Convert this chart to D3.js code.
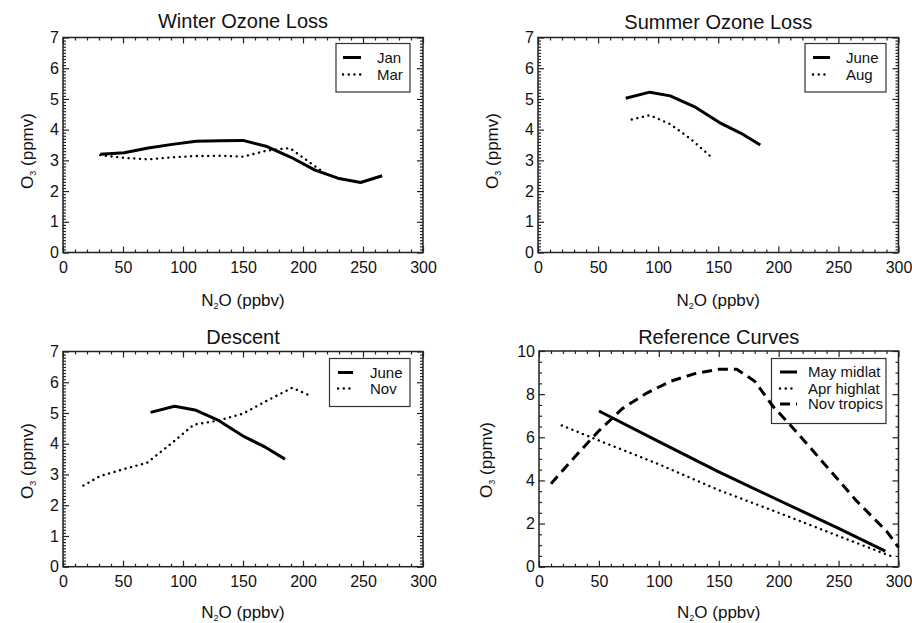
<!DOCTYPE html>
<html><head><meta charset="utf-8">
<script src="https://cdn.jsdelivr.net/npm/d3@7"></script>
<style>
html,body{margin:0;padding:0;background:#fff;}
svg{display:block;font-family:"Liberation Sans",Arial,Helvetica,sans-serif;}
</style></head>
<body>
<svg id="chart" width="912" height="623"></svg>
<script>
// ---- data ----
const xTickValues = [0, 50, 100, 150, 200, 250, 300];
const yTickValues7 = [0, 1, 2, 3, 4, 5, 6, 7];
const yTickValues10 = [0, 2, 4, 6, 8, 10];

const titles = ["Winter Ozone Loss", "Summer Ozone Loss", "Descent", "Reference Curves"];

// Winter Ozone Loss
const janN2O = [31, 51, 71, 91, 111, 131, 150, 170, 190, 210, 229, 248, 266];
const janO3  = [3.2, 3.25, 3.4, 3.52, 3.62, 3.64, 3.65, 3.45, 3.1, 2.68, 2.42, 2.28, 2.5];
const marN2O = [31, 51, 71, 91, 111, 131, 150, 170, 189, 205, 221];
const marO3  = [3.17, 3.08, 3.03, 3.1, 3.14, 3.15, 3.12, 3.32, 3.4, 2.95, 2.5];

// Summer Ozone Loss / Descent
const juneN2O = [73, 93, 110, 130, 151, 169, 185];
const juneO3  = [5.02, 5.22, 5.1, 4.75, 4.23, 3.88, 3.5];
const augN2O  = [78, 93, 110, 127, 143];
const augO3   = [4.33, 4.47, 4.18, 3.7, 3.15];
const novN2O  = [17, 31, 51, 70, 90, 109, 129, 150, 170, 191, 205];
const novO3   = [2.64, 2.95, 3.18, 3.38, 4.0, 4.62, 4.75, 4.98, 5.4, 5.82, 5.58];

// Reference Curves
const mayMidN2O = [50, 100, 150, 200, 250, 289];
const mayMidO3  = [7.22, 5.8, 4.4, 3.08, 1.78, 0.72];
const aprHighN2O = [19, 50, 100, 150, 200, 250, 297];
const aprHighO3  = [6.55, 5.85, 4.75, 3.55, 2.5, 1.42, 0.42];
const novTropN2O = [10, 30, 50, 70, 90, 110, 130, 150, 165, 180, 195, 210, 240, 265, 290, 300];
const novTropO3  = [3.85, 5.1, 6.3, 7.35, 8.05, 8.6, 8.95, 9.15, 9.15, 8.6, 7.45, 6.55, 4.65, 3.05, 1.65, 0.9];

// ---- styles ----
const styles = {
  solid:  {width: 3, dash: null, cap: "butt"},
  dotted: {width: 2.4, dash: "0.1 5.6", cap: "round"},
  dashed: {width: 3, dash: "10 6", cap: "butt"}
};

const zip = (xs, ys) => xs.map((x, i) => [x, ys[i]]);

const panels = [
  {title: titles[0], left: 63, right: 423, top: 37.5, bottom: 252.5, yMax: 7, yTicks: yTickValues7, yMinor: 0.1,
   titleY: 28, ylabX: 27.5, ylabY: 151, xlabY: 306,
   legend: {x: 336, y: 43.5, w: 74, h: 48.5, lineX0: 343, lineX1: 361, textX: 377, rows: [57.5, 74.5]},
   series: [{name: "Jan", d: zip(janN2O, janO3), s: "solid"}, {name: "Mar", d: zip(marN2O, marO3), s: "dotted"}]},
  {title: titles[1], left: 538, right: 898.5, top: 37.5, bottom: 252.5, yMax: 7, yTicks: yTickValues7, yMinor: 0.1,
   titleY: 28.5, ylabX: 492.5, ylabY: 151, xlabY: 306,
   legend: {x: 805, y: 43.5, w: 81, h: 48.5, lineX0: 813, lineX1: 830, textX: 846, rows: [57.5, 74.5]},
   series: [{name: "June", d: zip(juneN2O, juneO3), s: "solid"}, {name: "Aug", d: zip(augN2O, augO3), s: "dotted"}]},
  {title: titles[2], left: 63, right: 423, top: 351.5, bottom: 566.7, yMax: 7, yTicks: yTickValues7, yMinor: 0.1,
   titleY: 344, ylabX: 27.5, ylabY: 461, xlabY: 617.5,
   legend: {x: 329.5, y: 358.5, w: 80.5, h: 48, lineX0: 338, lineX1: 353, textX: 370, rows: [372.5, 388.5]},
   series: [{name: "June", d: zip(juneN2O, juneO3), s: "solid"}, {name: "Nov", d: zip(novN2O, novO3), s: "dotted"}]},
  {title: titles[3], left: 539, right: 898.5, top: 351, bottom: 566.7, yMax: 10, yTicks: yTickValues10, yMinor: 0.5,
   titleY: 344, ylabX: 486.5, ylabY: 460, xlabY: 617.5,
   legend: {x: 771.5, y: 358.5, w: 114.5, h: 65, lineX0: 780, lineX1: 797, textX: 808, rows: [372, 388.5, 404]},
   series: [{name: "May midlat", d: zip(mayMidN2O, mayMidO3), s: "solid"},
            {name: "Apr highlat", d: zip(aprHighN2O, aprHighO3), s: "dotted"},
            {name: "Nov tropics", d: zip(novTropN2O, novTropO3), s: "dashed"}]}
];

const svg = d3.select("#chart");
const axisColor = "#222";

panels.forEach((p, pi) => {
  const x = d3.scaleLinear().domain([0, 300]).range([p.left, p.right]);
  const y = d3.scaleLinear().domain([0, p.yMax]).range([p.bottom, p.top]);
  const g = svg.append("g");

  const xMinor = d3.range(0, 301, 10).filter(v => v % 50 !== 0);
  const yMinorVals = d3.range(0, p.yMax + 1e-9, p.yMinor).map(v => +v.toFixed(3))
    .filter(v => !p.yTicks.some(t => Math.abs(t - v) < 1e-6));

  function styleAxis(sel) {
    sel.select(".domain").remove();
    sel.selectAll(".tick line").attr("stroke", axisColor).attr("stroke-width", 1.2);
    sel.selectAll(".tick text").attr("fill", "#111").style("font-size", "16px")
      .style("font-family", '"Liberation Sans",Arial,sans-serif');
  }

  // bottom
  g.append("g").attr("transform", `translate(0,${p.bottom})`)
    .call(d3.axisBottom(x).tickValues(xTickValues).tickSizeInner(-6).tickSizeOuter(0).tickPadding(9).tickFormat(d3.format("d")))
    .call(styleAxis);
  g.append("g").attr("transform", `translate(0,${p.bottom})`)
    .call(d3.axisBottom(x).tickValues(xMinor).tickSizeInner(-3).tickSizeOuter(0).tickFormat(""))
    .call(styleAxis);
  // top
  g.append("g").attr("transform", `translate(0,${p.top})`)
    .call(d3.axisTop(x).tickValues(xTickValues).tickSizeInner(-6).tickSizeOuter(0).tickFormat(""))
    .call(styleAxis);
  g.append("g").attr("transform", `translate(0,${p.top})`)
    .call(d3.axisTop(x).tickValues(xMinor).tickSizeInner(-3).tickSizeOuter(0).tickFormat(""))
    .call(styleAxis);
  // left
  g.append("g").attr("transform", `translate(${p.left},0)`)
    .call(d3.axisLeft(y).tickValues(p.yTicks).tickSizeInner(-6).tickSizeOuter(0).tickPadding(4).tickFormat(d3.format("d")))
    .call(styleAxis);
  g.append("g").attr("transform", `translate(${p.left},0)`)
    .call(d3.axisLeft(y).tickValues(yMinorVals).tickSizeInner(-3).tickSizeOuter(0).tickFormat(""))
    .call(styleAxis);
  // right
  g.append("g").attr("transform", `translate(${p.right},0)`)
    .call(d3.axisRight(y).tickValues(p.yTicks).tickSizeInner(-6).tickSizeOuter(0).tickFormat(""))
    .call(styleAxis);
  g.append("g").attr("transform", `translate(${p.right},0)`)
    .call(d3.axisRight(y).tickValues(yMinorVals).tickSizeInner(-3).tickSizeOuter(0).tickFormat(""))
    .call(styleAxis);

  // frame
  g.append("rect").attr("x", p.left).attr("y", p.top)
    .attr("width", p.right - p.left).attr("height", p.bottom - p.top)
    .attr("fill", "none").attr("stroke", axisColor).attr("stroke-width", 1.5);

  // title
  g.append("text").attr("x", (p.left + p.right) / 2).attr("y", p.titleY)
    .attr("text-anchor", "middle").style("font-size", "20px").attr("fill", "#111").text(p.title);

  // x label
  const xl = g.append("text").attr("x", (p.left + p.right) / 2).attr("y", p.xlabY)
    .attr("text-anchor", "middle").style("font-size", "17px").attr("fill", "#111");
  xl.append("tspan").text("N");
  xl.append("tspan").attr("dy", 3).style("font-size", "9px").text("2");
  xl.append("tspan").attr("dy", -3).text("O (ppbv)");

  // y label
  const yl = g.append("text").attr("transform", `translate(${p.ylabX},${p.ylabY}) rotate(-90)`)
    .attr("dy", "0.35em").attr("text-anchor", "middle").style("font-size", "17px").attr("fill", "#111");
  yl.append("tspan").text("O");
  yl.append("tspan").attr("dy", 3).style("font-size", "9px").text("3");
  yl.append("tspan").attr("dy", -3).text(" (ppmv)");

  // legend
  const L = p.legend;
  g.append("rect").attr("x", L.x).attr("y", L.y).attr("width", L.w).attr("height", L.h)
    .attr("fill", "none").attr("stroke", "#333").attr("stroke-width", 1.2);
  p.series.forEach((s, i) => {
    const st = styles[s.s];
    g.append("line").attr("x1", L.lineX0).attr("x2", L.lineX1).attr("y1", L.rows[i]).attr("y2", L.rows[i])
      .attr("stroke", "#000").attr("stroke-width", st.width)
      .attr("stroke-dasharray", st.dash).attr("stroke-linecap", st.cap);
    g.append("text").attr("x", L.textX).attr("y", L.rows[i]).attr("dy", "0.35em")
      .style("font-size", "15px").attr("fill", "#111").text(s.name);
  });

  // series
  const line = d3.line().x(d => x(d[0])).y(d => y(d[1]));
  p.series.forEach(s => {
    const st = styles[s.s];
    g.append("path").datum(s.d).attr("d", line)
      .attr("fill", "none").attr("stroke", "#000").attr("stroke-width", st.width)
      .attr("stroke-linejoin", "round")
      .attr("stroke-dasharray", st.dash).attr("stroke-linecap", st.cap);
  });
});
</script>
</body></html>
